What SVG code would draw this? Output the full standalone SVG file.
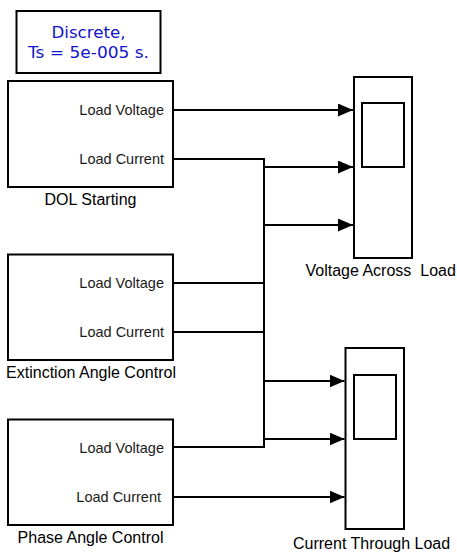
<svg xmlns="http://www.w3.org/2000/svg" width="457" height="552" viewBox="0 0 457 552">
  <style>
    .blk { fill: #ffffff; stroke: #000000; stroke-width: 2; }
    .wire { fill: none; stroke: #000000; stroke-width: 2; }
    .port { font-family: "Liberation Sans", Arial, sans-serif; font-size: 14.5px; fill: #1a1a1a; text-anchor: end; }
    .name { font-family: "Liberation Sans", Arial, sans-serif; font-size: 16px; fill: #000000; white-space: pre; }
    .pg { font-family: "DejaVu Sans", Verdana, sans-serif; font-size: 16px; fill: #1414cc; text-anchor: middle; }
  </style>
  <defs>
    <marker id="arrow" markerWidth="16" markerHeight="14" refX="15" refY="6.5" orient="auto" markerUnits="userSpaceOnUse">
      <path d="M0,0 L15,6.5 L0,13 Z" fill="#000000"/>
    </marker>
  </defs>

  <!-- solver settings block -->
  <g id="powergui">
    <rect class="blk" x="16.5" y="11" width="144" height="62"/>
    <text class="pg" x="88.5" y="37.5" textLength="74" lengthAdjust="spacingAndGlyphs">Discrete,</text>
    <text class="pg" x="88.5" y="57.5" textLength="121" lengthAdjust="spacingAndGlyphs">Ts = 5e-005 s.</text>
  </g>

  <!-- subsystems -->
  <g id="dol">
    <rect class="blk" x="8" y="81" width="165" height="106"/>
    <text class="port" x="164" y="115">Load Voltage</text>
    <text class="port" x="164" y="164">Load Current</text>
    <text class="name" x="90.5" y="205" text-anchor="middle">DOL Starting</text>
  </g>

  <g id="extinction">
    <rect class="blk" x="8" y="254.5" width="165" height="105.5"/>
    <text class="port" x="164" y="288">Load Voltage</text>
    <text class="port" x="164" y="337">Load Current</text>
    <text class="name" x="91" y="378" text-anchor="middle">Extinction Angle Control</text>
  </g>

  <g id="phase">
    <rect class="blk" x="8" y="419.5" width="165" height="105.5"/>
    <text class="port" x="164" y="453">Load Voltage</text>
    <text class="port" x="161" y="502">Load Current</text>
    <text class="name" x="90.5" y="543" text-anchor="middle">Phase Angle Control</text>
  </g>

  <!-- scopes -->
  <g id="scope-voltage">
    <rect class="blk" x="354" y="77" width="58" height="181"/>
    <rect class="blk" x="362" y="103" width="42" height="64"/>
    <text class="name" x="305.5" y="276">Voltage Across  Load</text>
  </g>

  <g id="scope-current">
    <rect class="blk" x="345.5" y="348" width="58.5" height="181"/>
    <rect class="blk" x="354" y="375" width="42" height="64"/>
    <text class="name" x="293" y="549">Current Through Load</text>
  </g>

  <!-- signal lines -->
  <g id="connectors">
    <path class="wire" d="M173,110 H353" marker-end="url(#arrow)"/>
    <path class="wire" d="M173,159 H264 V447 H173"/>
    <path class="wire" d="M173,283 H264"/>
    <path class="wire" d="M173,332 H264"/>
    <path class="wire" d="M264,167 H353" marker-end="url(#arrow)"/>
    <path class="wire" d="M264,225 H353" marker-end="url(#arrow)"/>
    <path class="wire" d="M264,381 H344.5" marker-end="url(#arrow)"/>
    <path class="wire" d="M264,439 H344.5" marker-end="url(#arrow)"/>
    <path class="wire" d="M173,497 H344.5" marker-end="url(#arrow)"/>
  </g>
</svg>
